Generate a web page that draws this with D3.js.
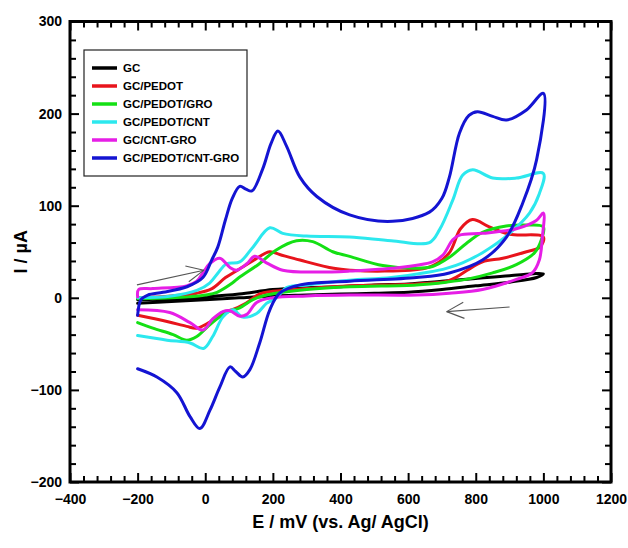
<!DOCTYPE html>
<html><head><meta charset="utf-8">
<script src="https://cdn.jsdelivr.net/npm/d3@7"></script>
<style>body{margin:0;background:#fff}svg{display:block}</style>
</head><body>
<svg id="chart" width="628" height="548"></svg>
<script>
// ---- data ----
const xTicks = [-400,-200,0,200,400,600,800,1000,1200];
const yTicks = [-200,-100,0,100,200,300];
const seriesNames = ["GC","GC/PEDOT","GC/PEDOT/GRO","GC/PEDOT/CNT","GC/CNT-GRO","GC/PEDOT/CNT-GRO"];
const seriesColors = ["#000000","#e8141c","#14e014","#2ce8ee","#e61ee6","#1414d2"];

// [E (mV), I (uA)] forward scan then reverse scan
const gc = [[-200,-2],[-100,-1],[0,1],[100,4],[200,9],[300,11],[400,12],[500,14],[600,15],[700,18],[800,21],[900,24],[1000,26],
  [980,22],[900,17],[800,13],[700,9],[600,6],[500,5],[400,4],[300,3],[200,2],[100,0],[0,-2],[-100,-4],[-200,-6]];
const pedot = [[-200,0],[-100,2],[-25,5],[20,10],[60,22],[100,31],[140,40],[190,50],[220,47],[280,41],[380,32],[430,30],[530,29],[660,33],[720,48],[755,75],[790,85],[840,77],[900,69],[1000,66],
  [990,55],[950,50],[880,43],[820,39],[775,30],[745,23],[715,18],[625,15],[430,13],[300,10],[200,7],[160,4],[120,-6],[80,-13],[50,-16],[15,-26],[-25,-33],[-55,-31],[-110,-26],[-200,-19]];
const pedotGro = [[-200,-1],[-100,0],[-50,1],[0,3],[35,6],[80,16],[100,22],[160,37],[210,52],[270,62],[318,61],[377,50],[427,45],[525,35],[625,32],[672,34],[722,44],[772,59],[820,71],[890,78],[950,79],[1000,77],
  [994,63],[974,49],[920,36],[850,27],[772,20],[713,17],[625,14],[427,12],[300,9],[230,6],[181,3],[141,-2],[102,-11],[63,-16],[14,-29],[-25,-42],[-55,-46],[-95,-40],[-155,-33],[-200,-27]];
const pedotCnt = [[-200,0],[-100,2],[-25,8],[13,16],[40,28],[63,37],[102,39],[141,55],[191,76],[229,70],[300,67],[427,66],[550,62],[663,60],[693,74],[732,106],[761,133],[791,139],[850,130],[920,130],[1000,135],
  [988,113],[959,92],[900,70],[820,49],[761,38],[713,32],[663,28],[550,22],[427,19],[300,14],[240,11],[211,0],[181,-6],[152,-17],[111,-21],[82,-13],[52,-21],[22,-42],[-5,-55],[-45,-49],[-113,-46],[-200,-41]];
const cntGro = [[-200,1],[-197,9],[-155,10],[-55,13],[-25,18],[-7,27],[13,37],[43,43],[73,33],[93,30],[123,37],[146,45],[181,38],[229,30],[330,28],[427,29],[550,32],[672,39],[702,46],[732,63],[752,68],[820,70],[920,75],[979,84],[1000,92],
  [997,66],[988,41],[967,27],[920,20],[820,9],[722,5],[625,3],[427,3],[300,2],[200,0],[152,-5],[123,-18],[102,-20],[73,-14],[52,-15],[22,-23],[-7,-35],[-45,-27],[-105,-16],[-200,-13]];
const pedotCntGro = [[-200,-19],[-190,-2],[-170,3],[-125,6],[-54,12],[-7,22],[19,41],[37,55],[60,85],[80,108],[102,121],[120,118],[138,116],[170,140],[195,168],[215,181],[240,165],[280,131],[330,110],[427,90],[554,83],[663,93],[700,108],[722,131],[752,179],[780,198],[805,202],[850,197],[891,193],[950,204],[1000,222],
  [980,150],[939,103],[891,66],[820,41],[722,27],[625,22],[427,18],[280,14],[220,5],[191,-13],[161,-49],[132,-78],[111,-86],[90,-80],[73,-75],[43,-97],[14,-122],[-16,-142],[-45,-129],[-84,-103],[-143,-86],[-200,-77]];
const seriesData = [gc, pedot, pedotGro, pedotCnt, cntGro, pedotCntGro];

// scan-direction arrows [E,I] from -> to
const arrowFrom = [[-202,14],[900,-10]];
const arrowTo = [[-4,30],[714,-15]];

// ---- drawing ----
const svg = d3.select("#chart");
const L = 70, R = 611, T = 21.5, B = 482;
const x = d3.scaleLinear().domain([-400,1200]).range([L,R]);
const y = d3.scaleLinear().domain([-200,300]).range([B,T]);
const font = "'Liberation Sans', Arial, sans-serif";

function styleAxis(g){
  g.select(".domain").remove();
  g.selectAll(".tick line").attr("stroke","#000").attr("stroke-width",2);
  g.selectAll("text").attr("font-family",font).attr("font-weight","bold").attr("font-size","14px").attr("fill","#000");
}
const minorX = d3.range(-400,1201,40).filter(v => v % 200 !== 0);
const minorY = d3.range(-200,301,20).filter(v => v % 100 !== 0);

// bottom
svg.append("g").attr("transform",`translate(0,${B})`).call(d3.axisBottom(x).tickValues(minorX).tickSize(-6).tickFormat("")).call(styleAxis);
svg.append("g").attr("transform",`translate(0,${B})`).call(d3.axisBottom(x).tickValues(xTicks).tickSize(-9).tickPadding(12).tickFormat(d3.format("d"))).call(styleAxis);
// top
svg.append("g").attr("transform",`translate(0,${T})`).call(d3.axisTop(x).tickValues(minorX).tickSize(-6).tickFormat("")).call(styleAxis);
svg.append("g").attr("transform",`translate(0,${T})`).call(d3.axisTop(x).tickValues(xTicks).tickSize(-9).tickFormat("")).call(styleAxis);
// left
svg.append("g").attr("transform",`translate(${L},0)`).call(d3.axisLeft(y).tickValues(minorY).tickSize(-6).tickFormat("")).call(styleAxis);
svg.append("g").attr("transform",`translate(${L},0)`).call(d3.axisLeft(y).tickValues(yTicks).tickSize(-9).tickPadding(8).tickFormat(d3.format("d"))).call(styleAxis);
// right
svg.append("g").attr("transform",`translate(${R},0)`).call(d3.axisRight(y).tickValues(minorY).tickSize(-6).tickFormat("")).call(styleAxis);
svg.append("g").attr("transform",`translate(${R},0)`).call(d3.axisRight(y).tickValues(yTicks).tickSize(-9).tickFormat("")).call(styleAxis);

// curves
const line = d3.line().x(d => x(d[0])).y(d => y(d[1])).curve(d3.curveCatmullRom.alpha(0.5));
svg.append("g").selectAll("path").data(seriesData).join("path")
  .attr("d", line).attr("fill","none")
  .attr("stroke",(d,i) => seriesColors[i]).attr("stroke-width",3)
  .attr("stroke-linejoin","round").attr("stroke-linecap","round");

// arrows
arrowFrom.forEach((f,i) => {
  const t = arrowTo[i];
  const x1 = x(f[0]), y1 = y(f[1]), x2 = x(t[0]), y2 = y(t[1]);
  const ang = Math.atan2(y2-y1, x2-x1);
  const len = 19, spread = 25*Math.PI/180;
  const g = svg.append("g").attr("stroke","#555").attr("stroke-width",1.1).attr("fill","none");
  g.append("line").attr("x1",x1).attr("y1",y1).attr("x2",x2).attr("y2",y2);
  [1,-1].forEach(s => {
    g.append("line").attr("x1",x2).attr("y1",y2)
      .attr("x2",x2 - len*Math.cos(ang + s*spread)).attr("y2",y2 - len*Math.sin(ang + s*spread));
  });
});

// frame
svg.append("rect").attr("x",L).attr("y",T).attr("width",R-L).attr("height",B-T)
  .attr("fill","none").attr("stroke","#000").attr("stroke-width",3);

// legend
const lg = svg.append("g");
lg.append("rect").attr("x",84).attr("y",50).attr("width",163).attr("height",126)
  .attr("fill","#fff").attr("stroke","#222").attr("stroke-width",1.2);
seriesNames.forEach((n,i) => {
  const yy = 68 + i*18;
  lg.append("line").attr("x1",92).attr("x2",117).attr("y1",yy).attr("y2",yy)
    .attr("stroke",seriesColors[i]).attr("stroke-width",3.5);
  lg.append("text").attr("x",123).attr("y",yy).attr("dy","0.36em").text(n)
    .attr("font-family",font).attr("font-weight","bold").attr("font-size","11.5px");
});

// axis titles
svg.append("text").attr("x",(L+R)/2).attr("y",528).attr("text-anchor","middle")
  .attr("font-family",font).attr("font-weight","bold").attr("font-size","18px").text("E / mV (vs. Ag/ AgCl)");
svg.append("text").attr("transform",`translate(27,${(T+B)/2}) rotate(-90)`).attr("text-anchor","middle")
  .attr("font-family",font).attr("font-weight","bold").attr("font-size","18px").text("I / µA");
</script>
</body></html>
